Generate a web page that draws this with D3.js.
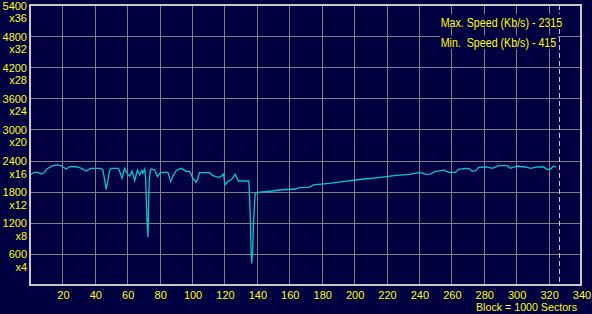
<!DOCTYPE html>
<html>
<head>
<meta charset="utf-8">
<script src="https://cdn.jsdelivr.net/npm/d3@7"></script>
<style>
  html, body { margin: 0; padding: 0; background: #000040; }
  svg { display: block; }
  text { font-family: "Liberation Sans", Arial, sans-serif; font-size: 11px; fill: #ffff00; }
</style>
</head>
<body>
<svg id="chart" width="592" height="314"></svg>
<script>
// Block position (x 1000 sectors)
const blocks = [0, 1.4, 2.5, 5, 7, 8.6, 10.6, 14.2, 17.2, 19.3, 22.3, 25, 29.5, 31.6, 34.7, 37.3,
  43.5, 45, 46, 47, 48, 49, 50, 54.6, 56.8, 58.3, 60, 61.5, 63, 64.6, 66.3, 67.7, 69.1, 69.7,
  70.8, 71.4, 71.8, 72.4, 72.8, 73.2, 73.6, 74.3, 74.9, 76.9, 78.6, 80, 81.4, 85.1, 86.8, 88.2,
  90.3, 93.3, 96.4, 98.5, 100.5, 102.6, 103.6, 104.6, 110.8, 112.8, 116.3, 118, 119.4, 120.4,
  122, 124.5, 126.6, 128.6, 135, 135.4, 136, 136.4, 136.8, 137.4, 137.8, 138.5, 138.9, 140.5,
  149.7, 153.8, 164, 166, 172.3, 174.8, 184.6, 193.8, 206, 216.4, 224.6, 233.8, 241, 244, 247,
  249.8, 255.4, 258.5, 262.6, 264.6, 268.7, 271, 272.8, 275, 276.9, 282, 285.1, 289.2, 294.4,
  296.4, 298.9, 301.5, 303, 305.6, 309.1, 312.8, 316.9, 319, 321, 323, 324.5];
// Read speed (Kb/s)
const speeds = [2130, 2145, 2173, 2173, 2140, 2165, 2243, 2300, 2315, 2300, 2237, 2289, 2276, 2250, 2199, 2250,
  2250, 2215, 2038, 1846, 2000, 2200, 2250, 2250, 2058, 2250, 2154, 2102, 2199, 2012, 2218, 2121, 2210, 2160,
  2237, 2025, 1575, 1138, 920, 1575, 2025, 2218, 2237, 2218, 2090, 2154, 2173, 2173, 1993, 2100,
  2210, 2250, 2192, 2192, 2058, 1981, 2058, 2166, 2166, 2108, 2077, 2100, 2141, 1929,
  1993, 2038, 2135, 2006, 2006, 1768, 1221, 675, 415, 675, 1093, 1543, 1768, 1788,
  1813, 1832, 1851, 1877, 1884, 1929, 1961, 2000, 2044, 2077, 2108, 2135, 2173, 2135, 2140,
  2186, 2215, 2173, 2173, 2231, 2250, 2245, 2199, 2205, 2270, 2276, 2250, 2302, 2302,
  2250, 2276, 2295, 2285, 2276, 2250, 2276, 2276, 2231, 2231, 2295, 2270];

const yTickValues = [600, 1200, 1800, 2400, 3000, 3600, 4200, 4800, 5400];
const yTickMults = ["x4", "x8", "x12", "x16", "x20", "x24", "x28", "x32", "x36"];
const xTickValues = [20, 40, 60, 80, 100, 120, 140, 160, 180, 200, 220, 240, 260, 280, 300, 320, 340];
const endMarker = [326.5];
const legendLines = ["Max. Speed (Kb/s) - 2315", "Min.  Speed (Kb/s) - 415"];
const xUnitLabel = ["Block = 1000 Sectors"];

const svg = d3.select("#chart");
const W = 592, H = 314;
svg.append("rect").attr("width", W).attr("height", H).attr("fill", "#000040");

const x = d3.scaleLinear().domain([0, 340]).range([30, 581]);
const y = d3.scaleLinear().domain([0, 5400]).range([285, 5]);
const crisp = v => Math.round(v) + 0.5;

// grid
const grid = svg.append("g").attr("stroke", "#808080").attr("stroke-width", 1).attr("shape-rendering", "crispEdges");
grid.selectAll("line.v").data(xTickValues.filter(d => d < 340)).join("line")
  .attr("x1", d => crisp(x(d))).attr("x2", d => crisp(x(d)))
  .attr("y1", y(5400)).attr("y2", y(0));
grid.selectAll("line.h").data(yTickValues.filter(d => d < 5400)).join("line")
  .attr("y1", d => crisp(y(d))).attr("y2", d => crisp(y(d)))
  .attr("x1", x(0)).attr("x2", x(340));

// end marker (dashed)
svg.selectAll("line.end").data(endMarker).join("line")
  .attr("x1", d => crisp(x(d))).attr("x2", d => crisp(x(d)))
  .attr("y1", y(5400)).attr("y2", y(0))
  .attr("stroke", "#c8c8d8").attr("stroke-dasharray", "5,3").attr("shape-rendering", "crispEdges");

// data line
const pts = blocks.map((b, i) => [b, speeds[i]]);
svg.append("path").datum(pts)
  .attr("fill", "none").attr("stroke", "#00c8d0").attr("stroke-width", 1.3)
  .attr("d", d3.line().x(d => x(d[0])).y(d => y(d[1])));

// border
svg.append("rect").attr("x", 30).attr("y", 5).attr("width", 551).attr("height", 280)
  .attr("fill", "none").attr("stroke", "#c8c8c8").attr("stroke-width", 2).attr("shape-rendering", "crispEdges");

// y labels
const yl = svg.append("g").attr("text-anchor", "end");
yl.selectAll("text.val").data(yTickValues).join("text")
  .attr("x", 27).attr("y", d => y(d) + 4.5).text(d => d);
yl.selectAll("text.mult").data(yTickValues).join("text")
  .attr("x", 27).attr("y", d => y(d) + 17).text((d, i) => yTickMults[i]);

// x labels
svg.append("g").attr("text-anchor", "middle").selectAll("text").data(xTickValues).join("text")
  .attr("x", d => x(d) + 1).attr("y", 299).text(d => d);

svg.selectAll("text.unit").data(xUnitLabel).join("text")
  .attr("x", 577).attr("y", 311).attr("text-anchor", "end")
  .attr("textLength", 101).attr("lengthAdjust", "spacingAndGlyphs").text(d => d);

// legend with background boxes
const legendBoxes = [{x: 440, y: 14, w: 123, h: 13.5, tl: 121.5, by: 26.5},
                     {x: 440, y: 35.5, w: 118, h: 13.5, tl: 115.5, by: 46.5}];
const lg = svg.append("g");
legendLines.forEach((t, i) => {
  const b = legendBoxes[i];
  lg.append("rect").attr("x", b.x).attr("y", b.y).attr("width", b.w).attr("height", b.h).attr("fill", "#000040");
  lg.append("text").attr("x", b.x + 0.7).attr("y", b.by).attr("xml:space", "preserve")
    .style("white-space", "pre").style("font-size", "12px")
    .attr("textLength", b.tl).attr("lengthAdjust", "spacingAndGlyphs").text(t);
});
</script>
</body>
</html>
